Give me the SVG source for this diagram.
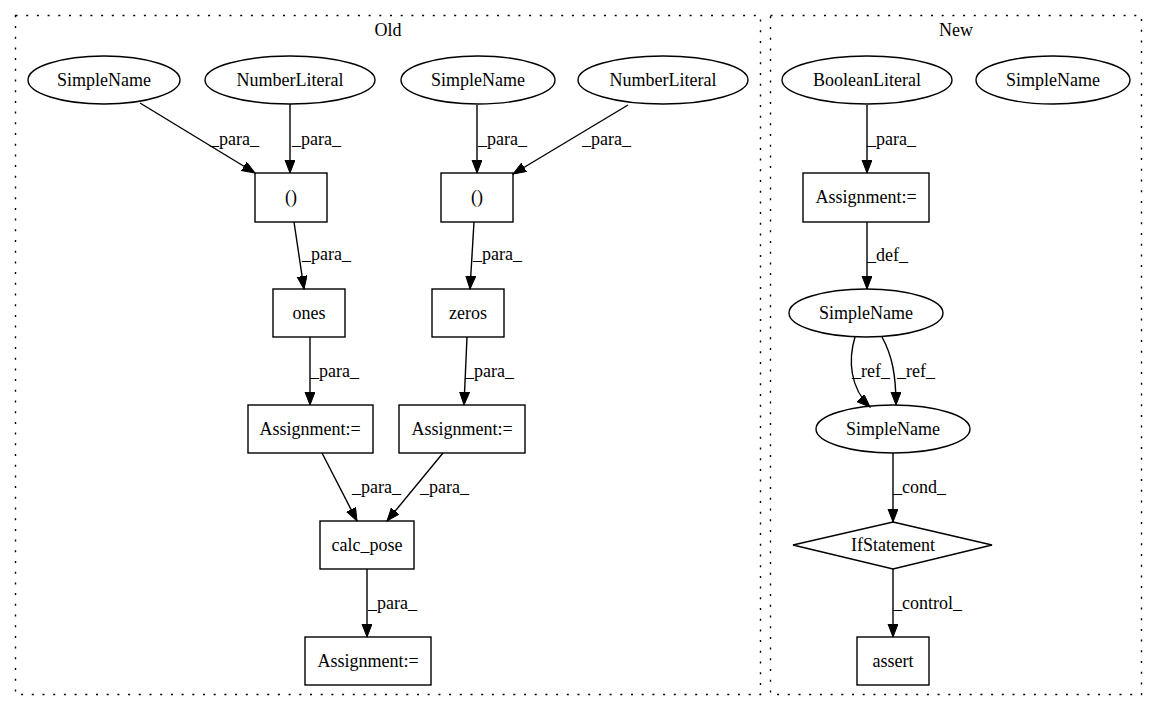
<svg xmlns="http://www.w3.org/2000/svg" width="1157" height="712" viewBox="0 0 1157 712">
<style>
text{font-family:"Liberation Serif","Times New Roman",serif;font-size:18px;fill:#000}
.n{text-anchor:middle}
.shape{fill:none;stroke:#000;stroke-width:1.4}
.cl{fill:none;stroke:#000;stroke-width:1.4;stroke-dasharray:2,8.7}
.e{fill:none;stroke:#000;stroke-width:1.4;marker-end:url(#ah)}
</style>
<defs>
<marker id="ah" markerUnits="userSpaceOnUse" markerWidth="14" markerHeight="11" refX="13" refY="5" orient="auto">
<path d="M0,0 L13,5 L0,10 Z" fill="#000" stroke="#000" stroke-width="1"/>
</marker>
</defs>
<rect width="1157" height="712" fill="#fff"/>
<g id="cluster_old">
<rect class="cl" x="15.5" y="15.5" width="745" height="679"/>
<text class="n" x="388" y="36">Old</text>
</g>
<g id="cluster_new">
<rect class="cl" x="770.5" y="15.5" width="371" height="679"/>
<text class="n" x="956" y="36">New</text>
</g>
<g id="edges">
<path class="e" d="M140,103 L255,173"/>
<text x="210" y="145">_para_</text>
<path class="e" d="M290,104 L290,173"/>
<text x="292" y="145">_para_</text>
<path class="e" d="M477,105 L477,173"/>
<text x="478" y="145">_para_</text>
<path class="e" d="M628,105 L513,174"/>
<text x="582" y="145">_para_</text>
<path class="e" d="M294,222 L304,289"/>
<text x="302" y="260">_para_</text>
<path class="e" d="M474,222 L470,289"/>
<text x="473" y="260">_para_</text>
<path class="e" d="M310,337 L310,405"/>
<text x="310" y="377">_para_</text>
<path class="e" d="M467,337 L464,405"/>
<text x="465" y="377">_para_</text>
<path class="e" d="M322,453 L357,521"/>
<text x="352" y="493">_para_</text>
<path class="e" d="M443,453 L387,521"/>
<text x="420" y="493">_para_</text>
<path class="e" d="M367,569 L367,637"/>
<text x="368" y="609">_para_</text>
<path class="e" d="M867,105 L867,173"/>
<text x="867" y="145">_para_</text>
<path class="e" d="M867,222 L867,289"/>
<text x="867" y="261">_def_</text>
<path class="e" d="M855,337 C848,360 850,388 870,407"/>
<text x="852" y="377">_ref_</text>
<path class="e" d="M882,337 C892,355 896,375 896,405"/>
<text x="897" y="377">_ref_</text>
<path class="e" d="M893,453 L893,522"/>
<text x="893" y="493">_cond_</text>
<path class="e" d="M893,569 L893,637"/>
<text x="893" y="609">_control_</text>
</g>
<g id="old_simplename1"><ellipse class="shape" cx="104" cy="80" rx="76" ry="24"/><text class="n" x="104" y="86">SimpleName</text></g>
<g id="old_numberliteral1"><ellipse class="shape" cx="290" cy="80" rx="85" ry="24"/><text class="n" x="290" y="86">NumberLiteral</text></g>
<g id="old_simplename2"><ellipse class="shape" cx="478" cy="80" rx="77" ry="24"/><text class="n" x="478" y="86">SimpleName</text></g>
<g id="old_numberliteral2"><ellipse class="shape" cx="663" cy="80" rx="85" ry="24"/><text class="n" x="663" y="86">NumberLiteral</text></g>
<g id="old_paren1"><rect class="shape" x="255" y="173" width="72" height="49"/><text class="n" x="291" y="203">()</text></g>
<g id="old_paren2"><rect class="shape" x="441" y="173" width="72" height="49"/><text class="n" x="477" y="203">()</text></g>
<g id="old_ones"><rect class="shape" x="273" y="289" width="72" height="48"/><text class="n" x="309" y="319">ones</text></g>
<g id="old_zeros"><rect class="shape" x="432" y="289" width="72" height="48"/><text class="n" x="468" y="319">zeros</text></g>
<g id="old_assign1"><rect class="shape" x="248" y="405" width="125" height="48"/><text class="n" x="310" y="435">Assignment:=</text></g>
<g id="old_assign2"><rect class="shape" x="399" y="405" width="126" height="48"/><text class="n" x="462" y="435">Assignment:=</text></g>
<g id="old_calc_pose"><rect class="shape" x="320" y="521" width="94" height="48"/><text class="n" x="367" y="551">calc_pose</text></g>
<g id="old_assign3"><rect class="shape" x="305" y="637" width="126" height="48"/><text class="n" x="368" y="667">Assignment:=</text></g>
<g id="new_booleanliteral"><ellipse class="shape" cx="867" cy="80" rx="85" ry="24"/><text class="n" x="867" y="86">BooleanLiteral</text></g>
<g id="new_simplename_iso"><ellipse class="shape" cx="1053" cy="80" rx="77" ry="24"/><text class="n" x="1053" y="86">SimpleName</text></g>
<g id="new_assign"><rect class="shape" x="803" y="173" width="126" height="49"/><text class="n" x="866" y="203">Assignment:=</text></g>
<g id="new_simplename_a"><ellipse class="shape" cx="866" cy="313" rx="77" ry="24"/><text class="n" x="866" y="319">SimpleName</text></g>
<g id="new_simplename_b"><ellipse class="shape" cx="893" cy="429" rx="77" ry="24"/><text class="n" x="893" y="435">SimpleName</text></g>
<g id="new_ifstatement"><polygon class="shape" points="893,522 992,545 893,569 793,545"/><text class="n" x="893" y="551">IfStatement</text></g>
<g id="new_assert"><rect class="shape" x="857" y="637" width="72" height="48"/><text class="n" x="893" y="667">assert</text></g>
</svg>
